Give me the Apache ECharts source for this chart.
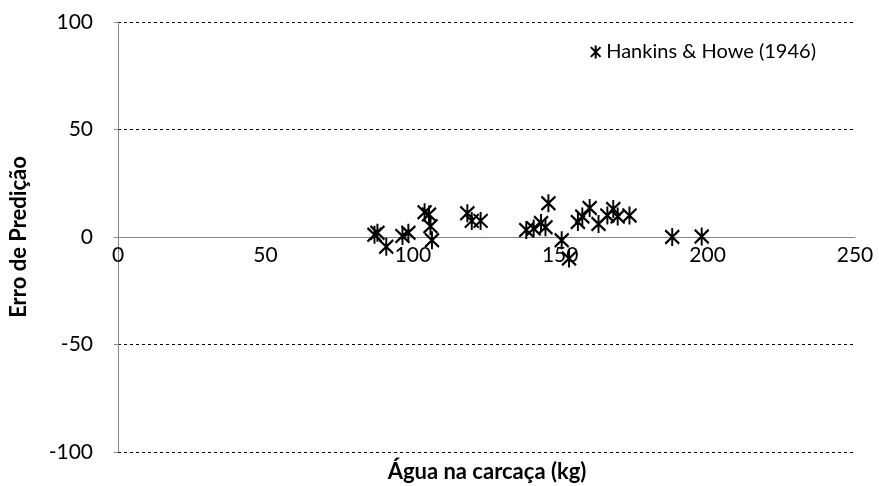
<!DOCTYPE html>
<html>
<head>
<meta charset="utf-8">
<script src="https://cdn.jsdelivr.net/npm/echarts@6/dist/echarts.min.js"></script>
<style>html,body{margin:0;padding:0;background:#fff}#c{width:879px;height:486px}</style>
</head>
<body>
<div id="c"></div>
<script>
const seriesName = 'Hankins & Howe (1946)';
const waterKg = [87, 88, 91, 96.5, 98.5, 104, 105.5, 106, 106.5, 118.5, 120, 123,
  138.5, 141, 143.5, 145, 146, 150.5, 153, 156, 157.5, 160, 163, 166, 168, 169.5, 173.5, 188, 198];
const predError = [1, 2, -4.5, 0.5, 2, 11.5, 10.5, 5, -1.5, 11, 7.5, 7.5,
  3.3, 4, 6.5, 4.5, 15.7, -1.5, -10, 7, 9.5, 13.5, 6, 10, 13, 9.5, 10, 0, 0.2];
const xTicks = [0, 50, 100, 150, 200, 250];
const yTicks = [-100, -50, 0, 50, 100];
const xTitle = 'Água na carcaça (kg)';
const yTitle = 'Erro de Predição';

const starPath = 'path://M0,2L12,14M12,2L0,14M6,0L6,16';
const font = 'Lato, "Open Sans", sans-serif';

const chart = echarts.init(document.getElementById('c'));
chart.setOption({
  animation: false,
  grid: { left: 118, right: 24, top: 22, bottom: 34, containLabel: false },
  legend: {
    data: [seriesName],
    right: 58, top: 37,
    icon: starPath,
    itemWidth: 11, itemHeight: 13, itemGap: 4,
    textStyle: { fontFamily: font, fontSize: 20, color: '#000' }
  },
  xAxis: {
    type: 'value', min: xTicks[0], max: xTicks[xTicks.length - 1], interval: 50,
    offset: -215,
    axisLine: { onZero: false, lineStyle: { color: '#868686', width: 1 } },
    axisTick: { show: false },
    axisLabel: { fontFamily: font, fontSize: 21, color: '#000', margin: 8 },
    splitLine: { show: false }
  },
  yAxis: {
    type: 'value', min: yTicks[0], max: yTicks[yTicks.length - 1], interval: 50,
    name: yTitle, nameLocation: 'middle', nameGap: 88,
    nameTextStyle: { fontFamily: font, fontSize: 22, fontWeight: 'bold', color: '#000' },
    axisLine: { show: true, lineStyle: { color: '#868686', width: 1 } },
    axisTick: { show: true, length: 4, lineStyle: { color: '#868686' } },
    axisLabel: { fontFamily: font, fontSize: 21, color: '#000', margin: 25 },
    splitLine: { show: true, lineStyle: { color: '#000', type: [3, 3], width: 1 } }
  },
  graphic: [{
    type: 'text',
    x: 487, y: 472,
    style: { text: xTitle, font: 'bold 22px ' + font, fill: '#000', align: 'center', verticalAlign: 'middle' }
  }],
  series: [{
    name: seriesName,
    type: 'scatter',
    symbol: starPath,
    symbolSize: [14, 18],
    itemStyle: { color: 'rgba(0,0,0,0)', borderColor: '#000', borderWidth: 2.2, opacity: 1 },
    data: waterKg.map((x, i) => [x, predError[i]]),
    z: 5
  }]
});
</script>
</body>
</html>
